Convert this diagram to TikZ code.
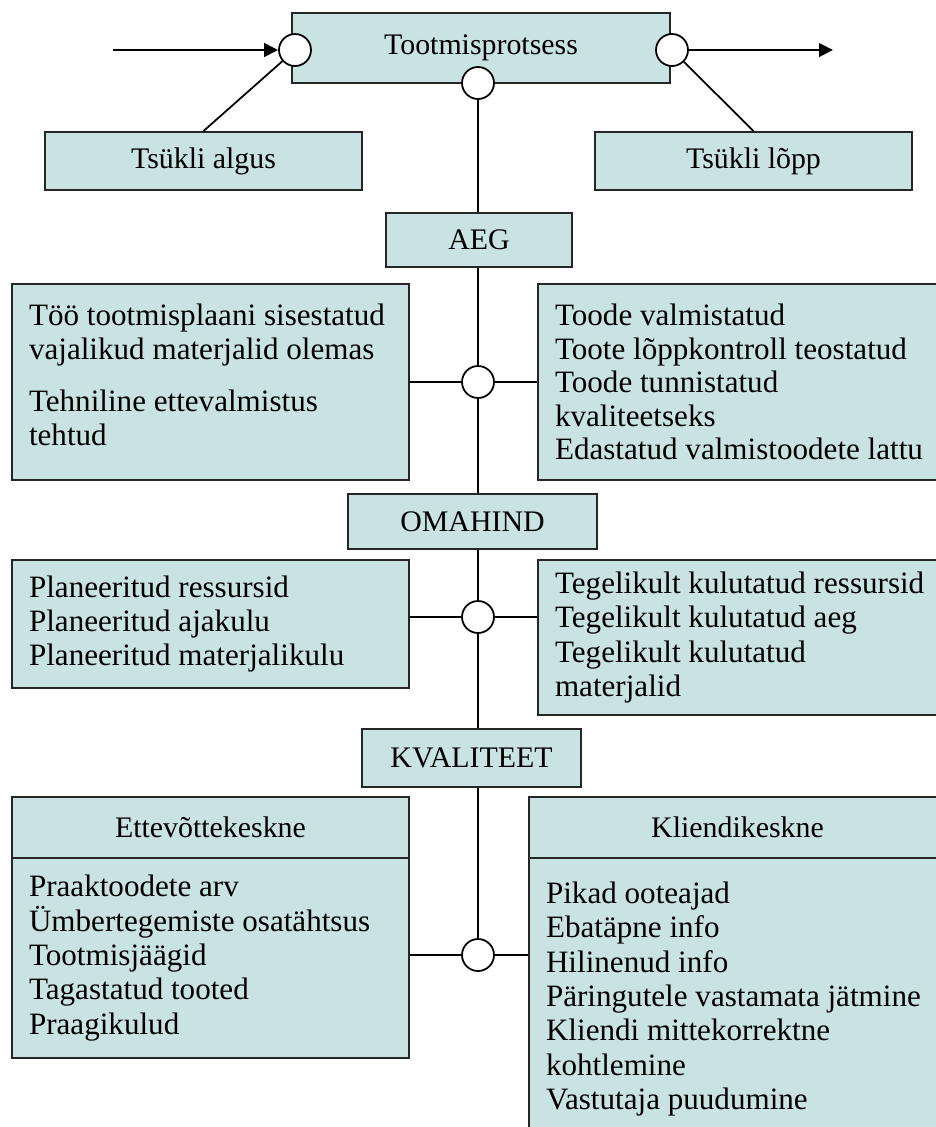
\documentclass[tikz,border=0pt]{standalone}
\usepackage{fontspec}
\setmainfont{Liberation Serif}
\usepackage{tikz}
\usetikzlibrary{arrows.meta}
\definecolor{boxfill}{HTML}{C9E3E2}

\begin{document}
\begin{tikzpicture}[x=0.02cm, y=-0.02cm,
    font=\fontsize{17}{20}\selectfont,
    box/.style={draw=black!85, fill=boxfill, line width=1.1pt, inner sep=0pt, align=center},
    list/.style={box, align=flush left, inner xsep=0.34cm, font=\fontsize{17.7}{19.6}\selectfont},
    port/.style={circle, draw, fill=white, line width=1pt, minimum size=0.64cm, inner sep=0pt},
    link/.style={line width=1pt},
    flow/.style={line width=1.5pt, -{Triangle[length=0.28cm, width=0.27cm]}}]
    \useasboundingbox (0,0) rectangle (936,1127);

    \node[box, minimum width=7.56cm, minimum height=1.4cm]  (proc)  at (481,48)    {Tootmisprotsess};
    \node[box, minimum width=6.34cm, minimum height=1.16cm] (start) at (203.5,161) {Tsükli algus};
    \node[box, minimum width=6.34cm, minimum height=1.16cm] (stop)  at (753.5,161) {Tsükli lõpp};

    \node[box, minimum width=3.72cm, minimum height=1.08cm] (aeg) at (479,240)     {AEG};
    \node[box, minimum width=4.98cm, minimum height=1.1cm]  (oma) at (472.5,521.5) {OMAHIND};
    \node[box, minimum width=4.38cm, minimum height=1.16cm] (kv)  at (471.5,758)   {KVALITEET};

    \node[list, text width=7.26cm, minimum height=3.92cm, font=\fontsize{17.7}{19.3}\selectfont] (aegL) at (210.5,382)
        {Töö tootmisplaani sisestatud\\ vajalikud materjalid olemas\\[0.36cm]
         Tehniline ettevalmistus\\ tehtud\par\vspace{0.3cm}\hrule height 0pt};
    \node[list, text width=7.48cm, minimum height=3.92cm, font=\fontsize{17.7}{19.1}\selectfont] (aegR) at (742,382)
        {Toode valmistatud\\ Toote lõppkontroll teostatud\\ Toode tunnistatud\\
         kvaliteetseks\\ Edastatud valmistoodete lattu};

    \node[list, text width=7.26cm, minimum height=2.56cm] (omaL) at (210.5,624)
        {Planeeritud ressursid\\ Planeeritud ajakulu\\ Planeeritud materjalikulu};
    \node[list, text width=7.48cm, minimum height=3.1cm] (omaR) at (742,637.5)
        {Tegelikult kulutatud ressursid\\ Tegelikult kulutatud aeg\\ Tegelikult kulutatud\\ materjalid};

    \node[box, minimum width=7.94cm, minimum height=1.22cm] (ettHead) at (210.5,827.5) {Ettevõttekeskne};
    \node[list, text width=7.26cm, minimum height=4cm] (ettBody) at (210.5,958)
        {Praaktoodete arv\\ Ümbertegemiste osatähtsus\\ Tootmisjäägid\\ Tagastatud tooted\\ Praagikulud};
    \node[box, minimum width=8.34cm, minimum height=1.22cm] (klHead) at (737.5,827.5) {Kliendikeskne};
    \node[list, text width=7.66cm, minimum height=5.64cm] (klBody) at (737.5,999)
        {Pikad ooteajad\\ Ebatäpne info\\ Hilinenud info\\ Päringutele vastamata jätmine\\
         Kliendi mittekorrektne\\ kohtlemine\\ Vastutaja puudumine};

    \node[port] (cIn)   at (295,50)  {};
    \node[port] (cOut)  at (672,50)  {};
    \node[port] (cDown) at (478,83)  {};
    \node[port] (cAeg)  at (478,382) {};
    \node[port] (cOma)  at (478,617) {};
    \node[port] (cKv)   at (478,955) {};

    \coordinate (entry) at (113,50);
    \coordinate (exit)  at (833,50);
    \draw[flow] (entry) -- (cIn);
    \draw[flow] (cOut) -- (exit);
    \draw[link] (cIn) -- (start.north);
    \draw[link] (cOut) -- (stop.north);

    \draw[link] (cDown) -- (cDown |- aeg.north);
    \draw[link] (cAeg |- aeg.south) -- (cAeg) -- (cAeg |- oma.north);
    \draw[link] (cOma |- oma.south) -- (cOma) -- (cOma |- kv.north);
    \draw[link] (cKv |- kv.south) -- (cKv);

    \draw[link] (aegL.east |- cAeg) -- (cAeg) -- (aegR.west |- cAeg);
    \draw[link] (omaL.east |- cOma) -- (cOma) -- (omaR.west |- cOma);
    \draw[link] (ettBody.east |- cKv) -- (cKv) -- (klBody.west |- cKv);
\end{tikzpicture}
\end{document}
